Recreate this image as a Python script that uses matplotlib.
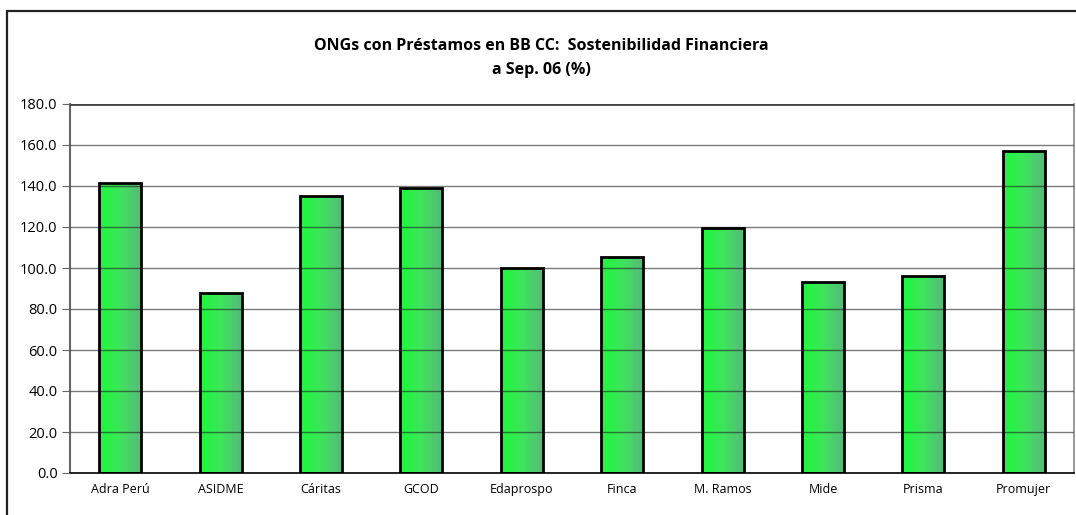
import numpy as np
import matplotlib
matplotlib.use("Agg")
import matplotlib.pyplot as plt
from matplotlib.patches import Rectangle
from matplotlib.colors import LinearSegmentedColormap

categories = ["Adra Perú", "ASIDME", "Cáritas", "GCOD", "Edaprospo", "Finca",
              "M. Ramos", "Mide", "Prisma", "Promujer"]
values = [141.5, 88.0, 135.2, 139.0, 99.8, 105.2, 119.6, 93.0, 96.0, 157.2]
yticks = [0, 20, 40, 60, 80, 100, 120, 140, 160, 180]
title = "ONGs con Préstamos en BB CC:  Sostenibilidad Financiera\na Sep. 06 (%)"

plt.rcParams['font.family'] = ['Open Sans', 'DejaVu Sans']

W, H = 1076, 515
fig = plt.figure(figsize=(W / 100, H / 100), dpi=100)

# outer border (right and bottom edges fall outside the image)
fig.patches.append(Rectangle((7 / W, -0.02), 1.05, (H - 11) / H + 0.02,
                             transform=fig.transFigure, fill=False,
                             edgecolor="#222222", linewidth=1.6))

ax = fig.add_axes([70 / W, (H - 473) / H, (1074 - 70) / W, (473 - 104) / H])
x = np.arange(len(categories))
bw = 0.42
bars = ax.bar(x, values, width=bw, facecolor="none", edgecolor="black",
              linewidth=2.0, zorder=4)

cmap = LinearSegmentedColormap.from_list("g", ["#1cf83a", "#3ee45c", "#5ab67e"])
grad = np.linspace(0, 1, 64).reshape(1, -1)
for b in bars:
    x0, y0 = b.get_x(), b.get_y()
    w, h = b.get_width(), b.get_height()
    im = ax.imshow(grad, cmap=cmap, extent=[x0, x0 + w, y0, y0 + h],
                   aspect="auto", zorder=2, interpolation="bicubic")
    im.set_clip_path(Rectangle((x0, y0), w, h, transform=ax.transData))

ax.set_xlim(-0.5, len(categories) - 0.5)
ax.set_ylim(0, 180)
ax.set_yticks(yticks)
ax.set_yticklabels([f"{v:.1f}" for v in yticks], fontsize=10.5)
ax.set_xticks(x)
ax.set_xticklabels(categories, fontsize=9)
ax.tick_params(axis="x", length=0, pad=7)
ax.tick_params(axis="y", length=6, width=0.8, color="#666666", pad=3)
ax.yaxis.grid(True, color="#222222", linewidth=1.0, alpha=0.6, zorder=3)
ax.set_axisbelow(False)
ax.spines["top"].set_visible(False)
ax.spines["right"].set_color("#888888")
ax.spines["right"].set_linewidth(1.2)
ax.spines["left"].set_color("#666666")
ax.spines["left"].set_linewidth(1.5)
ax.spines["bottom"].set_color("black")
ax.spines["bottom"].set_linewidth(1.2)
ax.axhline(180, color="#444444", linewidth=2.0, zorder=3)

fig.text(541 / W, 1 - 58 / H, title, ha="center", va="center",
         fontsize=11.5, fontweight="bold", linespacing=1.65)

fig.savefig("out.png", dpi=100)
